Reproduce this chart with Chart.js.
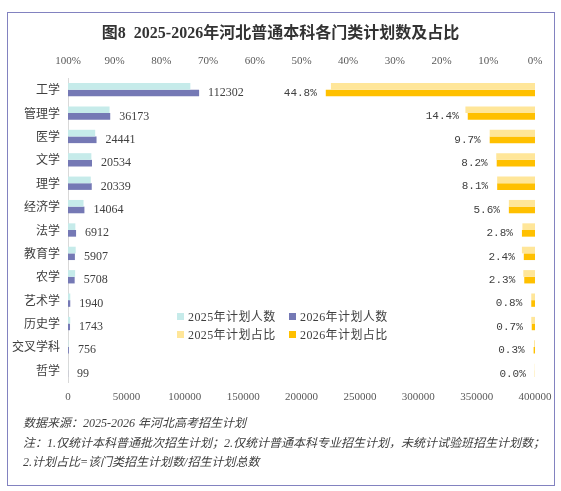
<!DOCTYPE html>
<html>
<head>
<meta charset="utf-8">
<script src="https://cdn.jsdelivr.net/npm/chart.js@4.4.1/dist/chart.umd.min.js"></script>
<style>
  html, body { margin: 0; padding: 0; background: #fff; }
  #wrap { position: relative; width: 561px; height: 491px; overflow: hidden; }
  #frame { position: absolute; left: 7px; top: 12px; width: 548px; height: 474px;
           border: 1.5px solid #8282c0; box-sizing: border-box; }
  #chart { position: absolute; left: 0; top: 0; }
  #title { position: absolute; left: 0; top: 23px; width: 561px; text-align: center;
           font: bold 16px/20px "Liberation Serif", "Noto Sans CJK SC", serif; color: #333; }
  .key { position: absolute; font: 12px/16px "Liberation Serif", "Noto Sans CJK SC", serif;
         color: #404040; letter-spacing: 0.4px; white-space: nowrap; }
  .swatch { position: absolute; width: 7px; height: 7px; }
  .note { position: absolute; left: 23px; font: italic 12px/16px "Liberation Serif", "Noto Sans CJK SC", serif;
          color: #404040; white-space: nowrap; }
</style>
</head>
<body>
<div id="wrap">
  <div id="frame"></div>
  <canvas id="chart" width="561" height="491"></canvas>
  <div id="title">图8&nbsp; 2025-2026年河北普通本科各门类计划数及占比</div>

  <div class="swatch" style="left:177px;top:313px;background:#c6ebea"></div>
  <div class="key" style="left:188px;top:309px">2025年计划人数</div>
  <div class="swatch" style="left:289px;top:313px;background:#7579b5"></div>
  <div class="key" style="left:300px;top:309px">2026年计划人数</div>
  <div class="swatch" style="left:177px;top:331px;background:#ffe699"></div>
  <div class="key" style="left:188px;top:327px">2025年计划占比</div>
  <div class="swatch" style="left:289px;top:331px;background:#ffc000"></div>
  <div class="key" style="left:300px;top:327px">2026年计划占比</div>

  <div class="note" style="top:415px">数据来源：2025-2026 年河北高考招生计划</div>
  <div class="note" style="top:435px">注：1.仅统计本科普通批次招生计划；2.仅统计普通本科专业招生计划，未统计试验班招生计划数；</div>
  <div class="note" style="top:454px">2.计划占比=该门类招生计划数/招生计划总数</div>
</div>

<script>
// categories (top to bottom)
const categories = ['工学', '管理学', '医学', '文学', '理学', '经济学', '法学',
  '教育学', '农学', '艺术学', '历史学', '交叉学科', '哲学'];

// plan counts
const plan2025 = [104800, 35600, 23300, 20000, 19500, 13300, 6300, 6600, 6100, 1950, 1900, 400, 110];
const plan2026 = [112302, 36173, 24441, 20534, 20339, 14064, 6912, 5907, 5708, 1940, 1743, 756, 99];

// share of total plan (%)
const share2025 = [43.7, 14.9, 9.7, 8.3, 8.1, 5.6, 2.7, 2.8, 2.5, 0.8, 0.8, 0.2, 0.05];
const share2026 = [44.8, 14.4, 9.7, 8.2, 8.1, 5.6, 2.8, 2.4, 2.3, 0.8, 0.7, 0.3, 0.04];

// tick labels
const countTicks = [0, 50000, 100000, 150000, 200000, 250000, 300000, 350000, 400000];
const shareTicks = [0, 10, 20, 30, 40, 50, 60, 70, 80, 90, 100];

Chart.defaults.font.family = '"Liberation Serif", "Noto Sans CJK SC", serif';
Chart.defaults.color = '#595959';

// value labels next to the 2026 bars
const valueLabels = {
  id: 'valueLabels',
  afterDatasetsDraw(chart) {
    const ctx = chart.ctx;
    ctx.save();
    ctx.fillStyle = '#404040';
    ctx.textBaseline = 'middle';

    ctx.font = '12px "Liberation Serif", serif';
    ctx.textAlign = 'left';
    chart.getDatasetMeta(1).data.forEach((bar, i) => {
      ctx.fillText(String(plan2026[i]), bar.x + 9, bar.y);
    });

    ctx.font = '11px "Liberation Mono", monospace';
    ctx.textAlign = 'right';
    chart.getDatasetMeta(3).data.forEach((bar, i) => {
      ctx.fillText(share2026[i].toFixed(1) + '%', bar.x - 9, bar.y);
    });
    ctx.restore();
  }
};

const config = {
  type: 'bar',
  data: {
    labels: categories,
    datasets: [
      { label: '2025年计划人数', data: plan2025, backgroundColor: '#c6ebea', xAxisID: 'x', stack: 'y2025' },
      { label: '2026年计划人数', data: plan2026, backgroundColor: '#7579b5', xAxisID: 'x', stack: 'y2026' },
      { label: '2025年计划占比', data: share2025, backgroundColor: '#ffe699', xAxisID: 'x2', stack: 'y2025' },
      { label: '2026年计划占比', data: share2026, backgroundColor: '#ffc000', xAxisID: 'x2', stack: 'y2026' }
    ]
  },
  options: {
    indexAxis: 'y',
    responsive: false,
    animation: false,
    categoryPercentage: 0.57,
    barPercentage: 1.0,
    layout: { padding: { left: 8, right: 26, top: 50, bottom: 85 } },
    plugins: {
      legend: { display: false },
      title: { display: false },
      tooltip: { enabled: false }
    },
    scales: {
      y: {
        stacked: true,
        grid: { display: false, drawTicks: false },
        border: { display: true, color: '#d9d9d9', width: 1 },
        ticks: { color: '#404040', padding: 8, font: { family: '"Noto Sans CJK SC", sans-serif', size: 12 } },
        afterFit: s => { s.width = 60; }
      },
      x: {
        position: 'bottom',
        stacked: false,
        min: 0,
        max: 400000,
        grid: { display: false, drawTicks: false },
        border: { display: false },
        afterBuildTicks: s => { s.ticks = countTicks.map(v => ({ value: v })); },
        ticks: { padding: 9, maxRotation: 0, autoSkip: false, font: { size: 11 }, callback: v => String(v) },
        afterFit: s => { s.height = 24; }
      },
      x2: {
        position: 'top',
        stacked: false,
        reverse: true,
        min: 0,
        max: 100,
        grid: { display: false, drawTicks: false },
        border: { display: false },
        afterBuildTicks: s => { s.ticks = shareTicks.map(v => ({ value: v })); },
        ticks: { padding: 10, maxRotation: 0, autoSkip: false, font: { size: 11 }, callback: v => v + '%' },
        afterFit: s => { s.height = 28; }
      }
    }
  },
  plugins: [valueLabels]
};

new Chart(document.getElementById('chart').getContext('2d'), config);
</script>
</body>
</html>
